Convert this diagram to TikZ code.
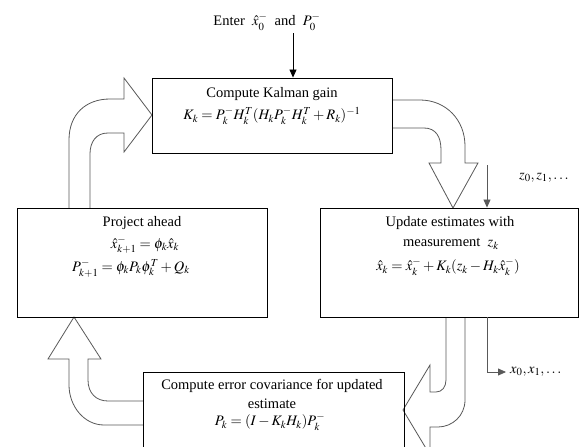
\documentclass[tikz,border=0pt]{standalone}
\usepackage{mathptmx}
\usepackage{fontspec}
\setmainfont{Liberation Serif}
\usetikzlibrary{arrows.meta, calc}
\definecolor{arrowgray}{gray}{0.35}
\tikzset{
    my-box/.style={
        draw, rectangle, line width=0.9pt, inner sep=0pt
    },
    my-text/.style={
        inner sep=0pt
    },
    my-hollow/.style={
        draw=arrowgray, line width=0.8pt, fill=white, line join=miter
    },
    my-thin-arrow/.style={
        draw=arrowgray, line width=0.8pt, -{Triangle[length=8pt, width=7pt]}
    },
}

\begin{document}
\begin{tikzpicture}[x=1pt, y=-1pt, font=\fontsize{14.5}{17}\selectfont]
        \useasboundingbox (0,0) rectangle (579,447);

        % BLOCK ARROWS
        \draw[my-hollow] (69,208) -- (69,140) .. controls (69,114) and (86,99) .. (110,99)
            -- (124,99) -- (124,78) -- (152,115) -- (124,152) -- (124,133) -- (108,133)
            .. controls (96,133) and (90,142) .. (90,154) -- (90,208);
        \draw[my-hollow] (392,100) -- (420,100) .. controls (446,100) and (465,120) .. (465,146)
            -- (465,163) -- (478,163) -- (453,208) -- (429,163) -- (441,163) -- (441,150)
            .. controls (441,137) and (436,128) .. (424,128) -- (392,128);
        \draw[my-hollow] (465,317) -- (465,400) .. controls (465,416) and (452,427) .. (438,427)
            -- (430,427) -- (430,455) -- (403,410) -- (430,365) -- (430,392) -- (436,392)
            .. controls (442,392) and (446,387) .. (446,380) -- (446,317);
        \draw[my-hollow] (143,425) -- (104,425) .. controls (84,425) and (69,406) .. (69,385)
            -- (69,359) -- (48,359) -- (74,317) -- (101,359) -- (88,359) -- (88,380)
            .. controls (88,393) and (96,401) .. (108,401) -- (143,401);

        % BOXES
        \node[my-box, minimum width=240pt, minimum height=75pt]  (GAIN)    at (272,115.5)   {};
        \node[my-box, minimum width=250pt, minimum height=109pt] (PROJECT) at (142,262.5)   {};
        \node[my-box, minimum width=258pt, minimum height=109pt] (UPDATE)  at (449,262.5)   {};
        \node[my-box, minimum width=261pt, minimum height=88pt]  (COVAR)   at (273.5,416)   {};

        % BOX TEXTS
        \node[my-text] (GAINT)   at (272,94)   {Compute Kalman gain};
        \node[my-text] (GAINEQ)  at (272,116)  {$K_k = P_k^- H_k^T (H_k P_k^- H_k^T + R_k)^{-1}$};
        \node[my-text] (PROJT)   at (142,223)  {Project ahead};
        \node[my-text] (PROJEQ1) at (145,245)  {$\hat{x}_{k+1}^- = \phi_k \hat{x}_k$};
        \node[my-text] (PROJEQ2) at (131,268)  {$P_{k+1}^- = \phi_k P_k \phi_k^T + Q_k$};
        \node[my-text] (UPDT1)   at (450,223)  {Update estimates with};
        \node[my-text] (UPDT2)   at (451,244)  {measurement\ \ $z_k$};
        \node[my-text] (UPDEQ)   at (448,267)  {$\hat{x}_k = \hat{x}_k^- + K_k(z_k - H_k \hat{x}_k^-)$};
        \node[my-text] (COVT1)   at (272,386)  {Compute error covariance for updated};
        \node[my-text] (COVT2)   at (272,404)  {estimate};
        \node[my-text] (COVEQ)   at (270,422)  {$P_k = (I - K_k H_k) P_k^-$};

        % INPUTS
        \node[my-text] (ENTER) at (267,22) {Enter\ \ $\hat{x}_0^-$\ \ and\ \ $P_0^-$};
        \node[my-text, anchor=west] (Z) at (519,178) {$z_0, z_1, \ldots$};

        % OUTPUTS
        \node[my-text, anchor=west] (X) at (510,372) {$x_0, x_1, \ldots$};

        % SMALL ARROWS
        \coordinate[] (ENTERIN) at (293,33);
        \coordinate[] (ZIN)     at (487,165);
        \coordinate[] (XOUT)    at (487,372);
        \draw[my-thin-arrow, draw=black] (ENTERIN) -- (ENTERIN |- GAIN.north);
        \draw[my-thin-arrow] (ZIN) -- (ZIN |- UPDATE.north);
        \draw[my-thin-arrow] (XOUT |- UPDATE.south) -- (XOUT) -- ($(X.west)+(-4,0)$);

    \end{tikzpicture}
\end{document}
